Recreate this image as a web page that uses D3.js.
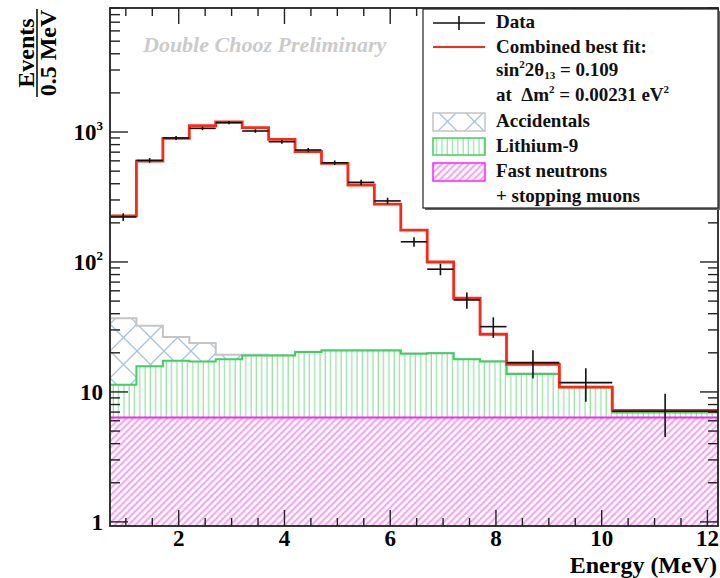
<!DOCTYPE html>
<html>
<head>
<meta charset="utf-8">
<script src="https://cdn.jsdelivr.net/npm/d3@7"></script>
<style>
  body { margin: 0; background: #fff; }
  svg { display: block; font-family: "Liberation Serif", "Times New Roman", serif; font-weight: bold; }
</style>
</head>
<body>
<svg id="chart" width="720" height="578"></svg>
<script>
// Prompt-energy binning (MeV): 0.5 MeV bins up to 8.2, then wider bins
const binEdges = [0.7, 1.2, 1.7, 2.2, 2.7, 3.2, 3.7, 4.2, 4.7, 5.2, 5.7, 6.2, 6.7, 7.2, 7.7, 8.2, 9.2, 10.2, 12.2];

// Observed events per 0.5 MeV and their uncertainties
const dataCounts = [222, 605, 900, 1067, 1180, 1018, 842, 727, 580, 410, 295, 143, 88, 51, 31.8, 16.8, 11.8, 7.1];
const dataErrors = [15, 25, 30, 33, 34, 32, 29, 27, 24, 20, 17, 12, 9, 7.3, 5.7, 4.1, 3.4, 2.6];

// Combined best fit (signal + backgrounds)
const bestFit = [226, 598, 895, 1117, 1194, 1079, 879, 706, 574, 391, 279, 176, 100, 52.6, 27.8, 16.3, 10.9, 7.2];

// Background components, stacked from the bottom up
const fastNeutrons = [6.35, 6.35, 6.35, 6.35, 6.35, 6.35, 6.35, 6.35, 6.35, 6.35, 6.35, 6.35, 6.35, 6.35, 6.35, 6.35, 6.35, 6.35];
const lithium9 = [5.0, 9.4, 11.0, 10.8, 11.5, 12.7, 12.7, 13.9, 14.5, 14.5, 14.5, 13.3, 13.5, 11.5, 10.8, 7.4, 4.5, 0.6];
const accidentals = [25.6, 16.5, 9.1, 6.6, 1.5, 0.3, 0.1, 0.1, 0.1, 0.1, 0.1, 0.1, 0.1, 0.1, 0.1, 0.1, 0.1, 0.1];

// Axis ticks
const xMajorTicks = [2, 4, 6, 8, 10, 12];
const yMajorTicks = [1, 10, 100, 1000];
const yTickLabels = [["1", ""], ["10", ""], ["10", "2"], ["10", "3"]];

const svg = d3.select("#chart");
const plot = { left: 110, right: 718, top: 8, bottom: 526 };

const x = d3.scaleLinear().domain([0.7, 12.2]).range([plot.left, plot.right]);
const y = d3.scaleLog().domain([0.93, 9000]).range([plot.bottom, plot.top]);

// ---------- patterns ----------
const defs = svg.append("defs");

defs.append("clipPath").attr("id", "plotClip")
  .append("rect")
  .attr("x", plot.left).attr("y", plot.top)
  .attr("width", plot.right - plot.left).attr("height", plot.bottom - plot.top);

const fnPat = defs.append("pattern").attr("id", "fnHatch")
  .attr("patternUnits", "userSpaceOnUse")
  .attr("width", 4.8).attr("height", 4.8)
  .attr("patternTransform", "rotate(45)");
fnPat.append("rect").attr("width", 4.8).attr("height", 4.8).attr("fill", "#fff");
fnPat.append("line").attr("x1", 1.2).attr("y1", 0).attr("x2", 1.2).attr("y2", 4.8)
  .attr("stroke", "#f59af5").attr("stroke-width", 1.9);

const liPat = defs.append("pattern").attr("id", "liHatch")
  .attr("patternUnits", "userSpaceOnUse")
  .attr("width", 5.3).attr("height", 10);
liPat.append("rect").attr("width", 5.3).attr("height", 10).attr("fill", "#fff");
liPat.append("line").attr("x1", 2).attr("y1", 0).attr("x2", 2).attr("y2", 10)
  .attr("stroke", "#92e2a0").attr("stroke-width", 1.2);

const accPat = defs.append("pattern").attr("id", "accHatch")
  .attr("patternUnits", "userSpaceOnUse")
  .attr("width", 27).attr("height", 27)
  .attr("x", plot.left).attr("y", 0);
accPat.append("rect").attr("width", 27).attr("height", 27).attr("fill", "#fff");
accPat.append("path").attr("d", "M0,0L27,27M27,0L0,27")
  .attr("stroke", "#a9c2e2").attr("stroke-width", 1.3).attr("fill", "none");

// ---------- stacked backgrounds ----------
const nBins = dataCounts.length;
const fnTop = fastNeutrons.slice();
const liTop = fastNeutrons.map((v, i) => v + lithium9[i]);
const accTop = liTop.map((v, i) => v + accidentals[i]);

// step points: one per bin edge, the last repeats the final bin's value
const stepPts = vals => binEdges.map((e, i) => [e, vals[Math.min(i, nBins - 1)]]);

const stepArea = (lower, upper) => d3.area()
  .curve(d3.curveStepAfter)
  .x(d => x(d.e))
  .y0(d => lower ? y(lower[d.i]) : plot.bottom)
  .y1(d => y(upper[d.i]));

const edgePts = binEdges.map((e, i) => ({ e, i: Math.min(i, nBins - 1) }));
const stepLine = d3.line().curve(d3.curveStepAfter).x(d => x(d[0])).y(d => y(d[1]));

const g = svg.append("g").attr("clip-path", "url(#plotClip)");

// accidentals (top of stack)
g.append("path").attr("d", stepArea(liTop, accTop)(edgePts)).attr("fill", "url(#accHatch)");
g.append("path").attr("d", stepLine(stepPts(accTop))).attr("fill", "none")
  .attr("stroke", "#c4c4c4").attr("stroke-width", 2);

// lithium-9
g.append("path").attr("d", stepArea(fnTop, liTop)(edgePts)).attr("fill", "url(#liHatch)");
g.append("path").attr("d", stepLine(stepPts(liTop))).attr("fill", "none")
  .attr("stroke", "#3fd062").attr("stroke-width", 2);

// fast neutrons + stopping muons
g.append("path").attr("d", stepArea(null, fnTop)(edgePts)).attr("fill", "url(#fnHatch)");
g.append("path").attr("d", stepLine(stepPts(fnTop))).attr("fill", "none")
  .attr("stroke", "#ff22ff").attr("stroke-width", 2);

// best fit
g.append("path").attr("d", stepLine(stepPts(bestFit))).attr("fill", "none")
  .attr("stroke", "#fb2a17").attr("stroke-width", 2.8);

// data with bin-width horizontal bars and vertical errors
const dataG = g.append("g").attr("stroke", "#111").attr("stroke-width", 1.6);
dataCounts.forEach((v, i) => {
  const x0 = x(binEdges[i]), x1 = x(binEdges[i + 1]);
  const xc = x((binEdges[i] + binEdges[i + 1]) / 2);
  dataG.append("line").attr("x1", x0).attr("x2", x1).attr("y1", y(v)).attr("y2", y(v));
  dataG.append("line").attr("x1", xc).attr("x2", xc)
    .attr("y1", y(v + dataErrors[i])).attr("y2", y(v - dataErrors[i]));
});

// ---------- axes frame and ticks ----------
const axG = svg.append("g").attr("stroke", "#222").attr("stroke-width", 1.4);
axG.append("rect")
  .attr("x", plot.left).attr("y", plot.top)
  .attr("width", plot.right - plot.left).attr("height", plot.bottom - plot.top)
  .attr("fill", "none").attr("stroke-width", 1.8);

const xMinor = d3.range(1.0, 12.2, 0.5).filter(v => !xMajorTicks.includes(v));
xMajorTicks.forEach(v => {
  axG.append("line").attr("x1", x(v)).attr("x2", x(v)).attr("y1", plot.bottom).attr("y2", plot.bottom - 16);
  axG.append("line").attr("x1", x(v)).attr("x2", x(v)).attr("y1", plot.top).attr("y2", plot.top + 16);
});
xMinor.forEach(v => {
  axG.append("line").attr("x1", x(v)).attr("x2", x(v)).attr("y1", plot.bottom).attr("y2", plot.bottom - 8);
  axG.append("line").attr("x1", x(v)).attr("x2", x(v)).attr("y1", plot.top).attr("y2", plot.top + 8);
});

const yAll = y.ticks(40).filter(v => v >= 1 && v <= 9000);
yAll.forEach(v => {
  const major = yMajorTicks.includes(v);
  const len = major ? 18 : 10;
  axG.append("line").attr("x1", plot.left).attr("x2", plot.left + len).attr("y1", y(v)).attr("y2", y(v));
  axG.append("line").attr("x1", plot.right).attr("x2", plot.right - len).attr("y1", y(v)).attr("y2", y(v));
});

// tick labels
svg.append("g").selectAll("text").data(xMajorTicks).join("text")
  .attr("x", d => x(d)).attr("y", 546)
  .attr("text-anchor", "middle").attr("font-size", 23).attr("fill", "#000")
  .text(d => d);

yMajorTicks.forEach((v, i) => {
  const [base, exp] = yTickLabels[i];
  const t = svg.append("text")
    .attr("x", 103).attr("y", y(v) + 8)
    .attr("text-anchor", "end").attr("font-size", 23).attr("fill", "#000");
  t.append("tspan").text(base);
  if (exp) t.append("tspan").attr("font-size", 13).attr("dy", -10).text(exp);
});

// axis titles
svg.append("text")
  .attr("x", 717).attr("y", 573)
  .attr("text-anchor", "end").attr("font-size", 24).attr("fill", "#000")
  .text("Energy (MeV)");

const yt = svg.append("g").attr("transform", "translate(37,53) rotate(-90)");
yt.append("text").attr("x", 0).attr("y", -3).attr("text-anchor", "middle")
  .attr("font-size", 24).attr("fill", "#000").text("Events");
yt.append("text").attr("x", 0).attr("y", 19).attr("text-anchor", "middle")
  .attr("font-size", 24).attr("fill", "#000").text("0.5 MeV");
yt.append("line").attr("x1", -44).attr("x2", 44).attr("y1", 0).attr("y2", 0)
  .attr("stroke", "#000").attr("stroke-width", 1.5);

// watermark
svg.append("text")
  .attr("x", 143).attr("y", 52)
  .attr("font-size", 22).attr("font-style", "italic").attr("fill", "#cbcbcb")
  .text("Double Chooz Preliminary");

// ---------- legend ----------
const lg = svg.append("g");
lg.append("rect").attr("x", 425).attr("y", 11).attr("width", 295).attr("height", 199).attr("fill", "#666");
lg.append("rect").attr("x", 423).attr("y", 9).attr("width", 295).attr("height", 199)
  .attr("fill", "#fff").attr("stroke", "#222").attr("stroke-width", 1.2);

const lx0 = 433, lx1 = 485, tx = 496;
lg.append("line").attr("x1", lx0).attr("x2", lx1).attr("y1", 23).attr("y2", 23).attr("stroke", "#111").attr("stroke-width", 1.6);
lg.append("line").attr("x1", 459).attr("x2", 459).attr("y1", 16).attr("y2", 30).attr("stroke", "#111").attr("stroke-width", 1.6);
lg.append("line").attr("x1", lx0).attr("x2", lx1).attr("y1", 47).attr("y2", 47).attr("stroke", "#fb2a17").attr("stroke-width", 2);

lg.append("rect").attr("x", lx0).attr("y", 113).attr("width", lx1 - lx0).attr("height", 18)
  .attr("fill", "url(#accHatch)").attr("stroke", "#c4c4c4").attr("stroke-width", 1.5);
lg.append("rect").attr("x", lx0).attr("y", 138).attr("width", lx1 - lx0).attr("height", 17)
  .attr("fill", "url(#liHatch)").attr("stroke", "#3fd062").attr("stroke-width", 1.5);
lg.append("rect").attr("x", lx0).attr("y", 163).attr("width", lx1 - lx0).attr("height", 18)
  .attr("fill", "url(#fnHatch)").attr("stroke", "#ff22ff").attr("stroke-width", 1.5);

const lt = (yy) => lg.append("text").attr("x", tx).attr("y", yy).attr("font-size", 19).attr("fill", "#111");
lt(28).text("Data");
lt(53).text("Combined best fit:");
const s1 = lt(76);
s1.append("tspan").text("sin");
s1.append("tspan").attr("font-size", 11).attr("dy", -8).text("2");
s1.append("tspan").attr("dy", 8).text("2θ");
s1.append("tspan").attr("font-size", 11).attr("dy", 3).text("13");
s1.append("tspan").attr("dy", -3).text(" = 0.109");
const s2 = lt(101);
s2.append("tspan").text("at\u00a0\u00a0Δm");
s2.append("tspan").attr("font-size", 11).attr("dy", -8).text("2");
s2.append("tspan").attr("dy", 8).text(" = 0.00231 eV");
s2.append("tspan").attr("font-size", 11).attr("dy", -8).text("2");
lt(127).text("Accidentals");
lt(152).text("Lithium-9");
lt(177).text("Fast neutrons");
lt(202).text("+ stopping muons");
</script>
</body>
</html>
